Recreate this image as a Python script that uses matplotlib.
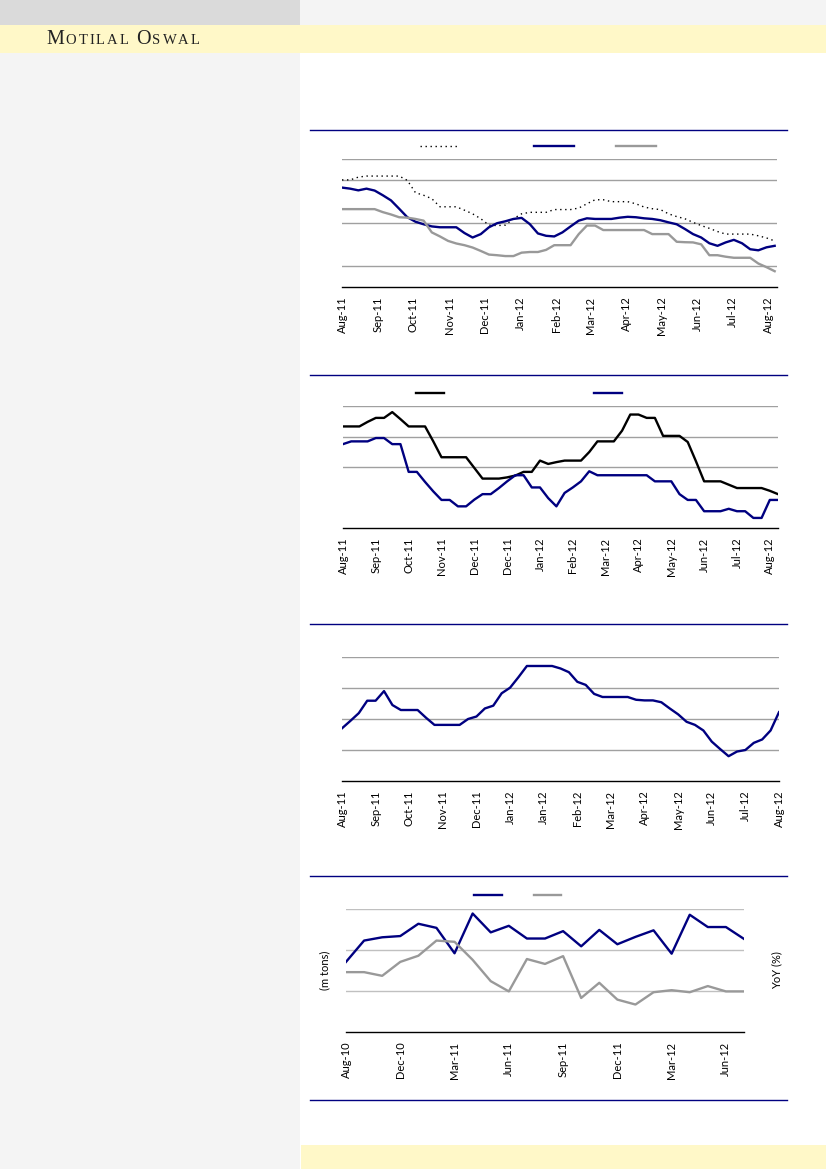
import numpy as np
import pandas as pd
import matplotlib
matplotlib.use("Agg")
import matplotlib.pyplot as plt
import matplotlib.dates as mdates
from matplotlib.patches import Rectangle
from matplotlib.lines import Line2D
from matplotlib.offsetbox import TextArea, HPacker, AnchoredOffsetbox

plt.rcParams['font.family'] = ['Lato', 'DejaVu Sans']

NAVY = "#000080"
GREY = "#999999"

# ---- chart 1 : weekly, three series (date axis)
c1_dates = pd.date_range("2011-08-01", periods=54, freq="7D")
c1_dotted = [5.02, 5.02, 5.15, 5.2, 5.2, 5.2, 5.2, 5.2, 5.0, 4.42,
             4.3, 4.14, 3.76, 3.76, 3.76, 3.6, 3.43, 3.2, 2.9, 2.88,
             2.9, 3.2, 3.43, 3.5, 3.5, 3.5, 3.63, 3.63, 3.63, 3.7,
             3.9, 4.09, 4.09, 4.0, 4.0, 4.0, 3.9, 3.75, 3.67, 3.63,
             3.43, 3.3, 3.2, 3.03, 2.88, 2.75, 2.6, 2.48, 2.48, 2.48,
             2.48, 2.4, 2.3, 2.16]
c1_navy = [4.66, 4.61, 4.53, 4.61, 4.52, 4.3, 4.06, 3.67, 3.27, 3.06,
           2.94, 2.84, 2.8, 2.8, 2.8, 2.53, 2.32, 2.48, 2.8, 2.99,
           3.08, 3.19, 3.24, 2.95, 2.51, 2.4, 2.37, 2.56, 2.84, 3.11,
           3.22, 3.19, 3.19, 3.19, 3.25, 3.29, 3.27, 3.22, 3.19, 3.13,
           3.03, 2.94, 2.72, 2.48, 2.32, 2.05, 1.93, 2.09, 2.21, 2.05,
           1.77, 1.72, 1.86, 1.93]
c1_grey = [3.65, 3.65, 3.65, 3.65, 3.65, 3.51, 3.4, 3.27, 3.25, 3.19,
           3.11, 2.56, 2.37, 2.16, 2.04, 1.96, 1.85, 1.69, 1.52, 1.49,
           1.45, 1.45, 1.61, 1.64, 1.64, 1.74, 1.96, 1.96, 1.96, 2.48,
           2.88, 2.88, 2.67, 2.67, 2.67, 2.67, 2.67, 2.67, 2.48, 2.48,
           2.48, 2.12, 2.1, 2.09, 2.0, 1.49, 1.49, 1.42, 1.37, 1.37,
           1.37, 1.1, 0.93, 0.74]

# ---- chart 2 : weekly, two series (category axis)
c2_black = [3.33, 3.33, 3.33, 3.48, 3.61, 3.61, 3.80, 3.57, 3.33, 3.33,
            3.33, 2.84, 2.32, 2.32, 2.32, 2.32, 1.97, 1.62, 1.62, 1.62,
            1.66, 1.72, 1.84, 1.84, 2.21, 2.10, 2.16, 2.21, 2.21, 2.21,
            2.49, 2.84, 2.84, 2.84, 3.19, 3.72, 3.72, 3.61, 3.61, 3.02,
            3.02, 3.02, 2.82, 2.19, 1.53, 1.53, 1.53, 1.42, 1.31, 1.31,
            1.31, 1.31, 1.22, 1.11]
c2_navy = [2.75, 2.84, 2.84, 2.84, 2.95, 2.95, 2.75, 2.75, 1.84, 1.84,
           1.51, 1.20, 0.92, 0.92, 0.71, 0.71, 0.93, 1.11, 1.11, 1.31,
           1.53, 1.73, 1.73, 1.33, 1.33, 0.98, 0.71, 1.15, 1.33, 1.53,
           1.86, 1.73, 1.73, 1.73, 1.73, 1.73, 1.73, 1.73, 1.53, 1.53,
           1.53, 1.11, 0.92, 0.92, 0.55, 0.55, 0.55, 0.63, 0.55, 0.55,
           0.33, 0.33, 0.92, 0.92]
c2_labels = ["Aug-11", "Sep-11", "Oct-11", "Nov-11", "Dec-11", "Dec-11", "Jan-12",
             "Feb-12", "Mar-12", "Apr-12", "May-12", "Jun-12", "Jul-12", "Aug-12"]

# ---- chart 3 : weekly, one series
c3_navy = [1.70, 1.94, 2.19, 2.59, 2.59, 2.90, 2.45, 2.29, 2.29, 2.29,
           2.04, 1.81, 1.81, 1.81, 1.81, 2.0, 2.08, 2.34, 2.43, 2.83,
           3.01, 3.35, 3.71, 3.71, 3.71, 3.71, 3.63, 3.51, 3.20, 3.10,
           2.81, 2.71, 2.71, 2.71, 2.71, 2.62, 2.60, 2.60, 2.54, 2.34,
           2.15, 1.91, 1.81, 1.63, 1.27, 1.03, 0.80, 0.95, 1.0, 1.23,
           1.34, 1.63, 2.22]
c3_labels = ["Aug-11", "Sep-11", "Oct-11", "Nov-11", "Dec-11", "Jan-12", "Jan-12",
             "Feb-12", "Mar-12", "Apr-12", "May-12", "Jun-12", "Jul-12", "Aug-12"]

# ---- chart 4 : monthly, volume (m tons) + YoY (%)
c4_volume = [1.71, 2.23, 2.31, 2.34, 2.64, 2.54, 1.92, 2.89, 2.43, 2.59,
             2.28, 2.28, 2.46, 2.09, 2.49, 2.14, 2.32, 2.48, 1.91, 2.86,
             2.56, 2.56, 2.27]
c4_yoy = [1.46, 1.46, 1.37, 1.71, 1.86, 2.23, 2.20, 1.76, 1.24, 0.99,
          1.78, 1.66, 1.85, 0.83, 1.20, 0.79, 0.67, 0.97, 1.02, 0.97,
          1.12, 0.99, 0.99]
c4_labels = ["Aug-10", "Dec-10", "Mar-11", "Jun-11", "Sep-11", "Dec-11", "Mar-12", "Jun-12"]

W, H = 826, 1169
fig = plt.figure(figsize=(W / 100, H / 100), dpi=100)


def fx(x):
    return x / W


def fy(y):
    return 1 - y / H


def rect(x0, y0, x1, y1, color):
    fig.patches.append(Rectangle((fx(x0), fy(y1)), fx(x1 - x0), (y1 - y0) / H,
                                 transform=fig.transFigure, color=color, lw=0, zorder=-10))


def hline(y, x0=310, x1=787):
    fig.add_artist(Line2D([fx(x0), fx(x1)], [fy(y), fy(y)], color=NAVY, lw=1.0,
                          transform=fig.transFigure))


# page background
rect(0, 0, 300, 25, "#dadada")
rect(300, 0, W, 25, "#f4f4f4")
rect(0, 25, W, 53, "#fff8c8")
rect(0, 53, 300, H, "#f4f4f4")
rect(301, 1145, W, H, "#fff8c8")

# header logo in small caps
parts = [("M", 14.5), ("O", 10.5), ("T", 10.5), ("I", 10.5), ("L", 10.5), ("A", 10.5),
         ("L", 10.5), (" ", 10.5), ("O", 14.5), ("S", 10.5), ("W", 10.5), ("A", 10.5), ("L", 10.5)]
boxes = [TextArea(ch, textprops=dict(fontsize=s, family="Liberation Serif", color="#222222"))
         for ch, s in parts]
pack = HPacker(children=boxes, align="baseline", pad=0, sep=1.4)
logo = AnchoredOffsetbox(loc="center left", child=pack, frameon=False, pad=0, borderpad=0,
                         bbox_to_anchor=(fx(46), fy(40)), bbox_transform=fig.transFigure)
fig.add_artist(logo)

for y in (130, 375, 624, 876, 1100):
    hline(y)


def make_ax(x0, y0, x1, y1, ymax, grid):
    ax = fig.add_axes([fx(x0), fy(y1), fx(x1 - x0), (y1 - y0) / H])
    ax.set_facecolor("none")
    ax.set_ylim(0, ymax)
    ax.set_yticks(grid)
    ax.set_yticklabels([])
    ax.tick_params(axis="y", length=0)
    ax.tick_params(axis="x", length=0, pad=7, labelsize=8, rotation=90)
    ax.grid(axis="y", color="#a0a0a0", lw=1.0)
    for s in ("left", "right", "top"):
        ax.spines[s].set_visible(False)
    ax.spines["bottom"].set_color("black")
    ax.spines["bottom"].set_linewidth(1.0)
    ax.set_axisbelow(True)
    return ax


def blank_legend(ax, handles, gaps, hlen, anchor):
    labels = [" " * g for g in gaps]
    ax.legend(handles, labels, ncol=len(handles), loc="center", bbox_to_anchor=anchor,
              frameon=False, handlelength=hlen, handletextpad=0, columnspacing=0,
              borderpad=0, borderaxespad=0, prop=dict(family="DejaVu Sans", size=8))


# chart 1
ax1 = make_ax(342, 159, 777, 287, 6, [1, 3, 5, 6])
l1, = ax1.plot(c1_dates, c1_dotted, color="black", lw=1.0, ls=(0, (1, 2.6)))
l2, = ax1.plot(c1_dates, c1_navy, color=NAVY, lw=1.7)
l3, = ax1.plot(c1_dates, c1_grey, color=GREY, lw=1.7)
ax1.set_xlim(c1_dates[0], c1_dates[-1] + pd.Timedelta(days=2))
ax1.xaxis.set_major_locator(mdates.MonthLocator())
ax1.xaxis.set_major_formatter(mdates.DateFormatter("%b-%y"))
blank_legend(ax1, [l1, l2, l3], [21, 12, 0], 3.6, (0.45, 1.094))

# chart 2
ax2 = make_ax(343, 406, 778, 528, 4, [2, 3, 4])
x2 = np.arange(len(c2_black))
m1, = ax2.plot(x2, c2_black, color="black", lw=1.7)
m2, = ax2.plot(x2, c2_navy, color=NAVY, lw=1.7)
ax2.set_xlim(0, len(x2) - 1)
ax2.set_xticks(x2[::4])
ax2.set_xticklabels(c2_labels)
blank_legend(ax2, [m1, m2], [43, 0], 2.5, (0.405, 1.098))

# chart 3
ax3 = make_ax(342, 657, 779, 781, 4, [1, 2, 3, 4])
x3 = np.arange(len(c3_navy))
ax3.plot(x3, c3_navy, color=NAVY, lw=1.7)
ax3.set_xlim(0, len(x3) - 1)
ax3.set_xticks(x3[::4])
ax3.set_xticklabels(c3_labels)

# chart 4
ax4 = make_ax(346, 909, 744, 1032, 3, [1, 2, 3])
ax4.grid(axis="y", color="#c0c0c0", lw=1.0)
x4 = np.arange(len(c4_volume))
n1, = ax4.plot(x4, c4_volume, color=NAVY, lw=1.7)
ax4b = ax4.twinx()
n2, = ax4b.plot(x4, c4_yoy, color=GREY, lw=1.7)
ax4b.set_ylim(0, 3)
ax4b.set_yticks([])
for s in ("left", "right", "top", "bottom"):
    ax4b.spines[s].set_visible(False)
ax4.set_xlim(0, len(x4) - 1)
ax4.set_xticks(x4[::3])
ax4.set_xticklabels(c4_labels)
ax4.set_ylabel("(m tons)", fontsize=8, labelpad=8)
ax4b.set_ylabel("YoY (%)", fontsize=8, rotation=90, labelpad=20)
ax4b.yaxis.set_label_position("right")
blank_legend(ax4, [n1, n2], [9, 0], 2.5, (0.432, 1.106))

fig.savefig("out.png", dpi=100)
